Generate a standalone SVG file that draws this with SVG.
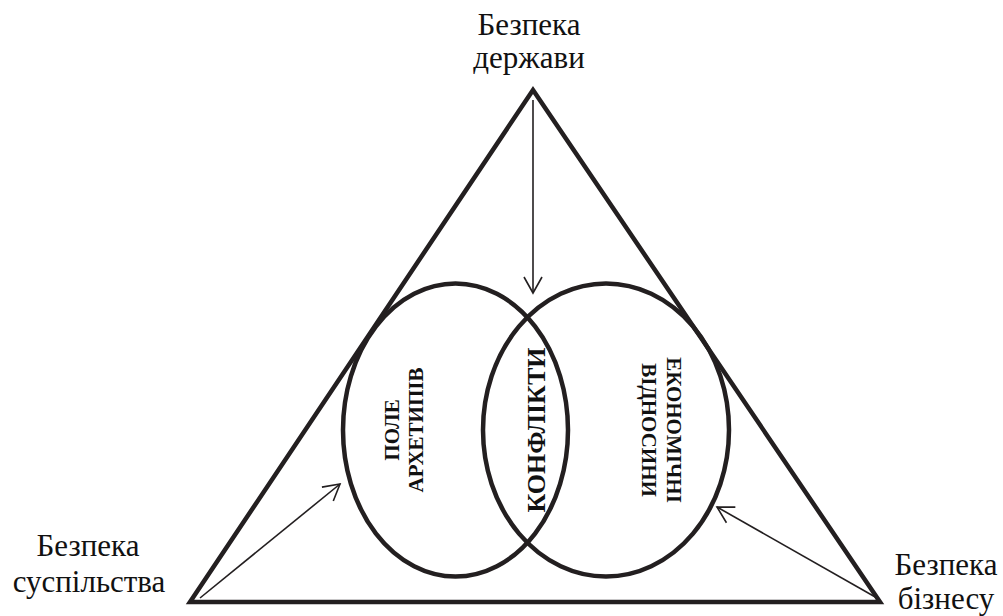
<svg xmlns="http://www.w3.org/2000/svg" width="1003" height="616" viewBox="0 0 1003 616">
  <style>
    .lbl { font-family: "Liberation Serif", "Times New Roman", serif; font-size: 31px; fill: #111; text-anchor: middle; }
    .in { font-family: "Liberation Serif", "Times New Roman", serif; font-weight: bold; font-size: 21px; fill: #111; text-anchor: middle; }
    .big { font-size: 26px; }
    .shape { fill: none; stroke: #231f20; stroke-width: 4.5; }
    .arrow { fill: none; stroke: #231f20; stroke-width: 1.6; marker-end: url(#head); }
  </style>
  <defs>
    <marker id="head" markerUnits="userSpaceOnUse" markerWidth="20" markerHeight="22" viewBox="-18 -11 20 22" refX="0" refY="0" orient="auto">
      <path d="M-16,-9 L0,0 L-16,9" fill="none" stroke="#231f20" stroke-width="1.6"/>
    </marker>
  </defs>
  <rect width="1003" height="616" fill="#fff"/>

  <g id="triangle">
    <polygon class="shape" points="533,90 880,602 190,602" stroke-width="5" stroke-linejoin="miter"/>
  </g>

  <g id="field-archetypes">
    <ellipse class="shape" cx="455.5" cy="430" rx="112.5" ry="146.5"/>
    <text class="in" transform="translate(399,430) rotate(-90)">ПОЛЕ</text>
    <text class="in" transform="translate(423,430) rotate(-90)">АРХЕТИПІВ</text>
  </g>

  <g id="economic-relations">
    <ellipse class="shape" cx="606" cy="430" rx="123" ry="146.5"/>
    <text class="in" transform="translate(667,430) rotate(90)">ЕКОНОМІЧНІ</text>
    <text class="in" transform="translate(642,430) rotate(90)">ВІДНОСИНИ</text>
  </g>

  <g id="conflicts">
    <text class="in big" transform="translate(545,430) rotate(-90)">КОНФЛІКТИ</text>
  </g>

  <g id="state-security">
    <text class="lbl" x="529" y="35">Безпека</text>
    <text class="lbl" x="529" y="68">держави</text>
  </g>

  <g id="society-security">
    <text class="lbl" x="88" y="556">Безпека</text>
    <text class="lbl" x="89" y="592">суспільства</text>
  </g>

  <g id="business-security">
    <text class="lbl" x="946" y="575">Безпека</text>
    <text class="lbl" x="946" y="609">бізнесу</text>
  </g>

  <g id="connectors">
    <line class="arrow" x1="533" y1="100" x2="533" y2="293"/>
    <line class="arrow" x1="200" y1="598" x2="340" y2="484"/>
    <line class="arrow" x1="877" y1="598" x2="717" y2="507"/>
  </g>
</svg>
